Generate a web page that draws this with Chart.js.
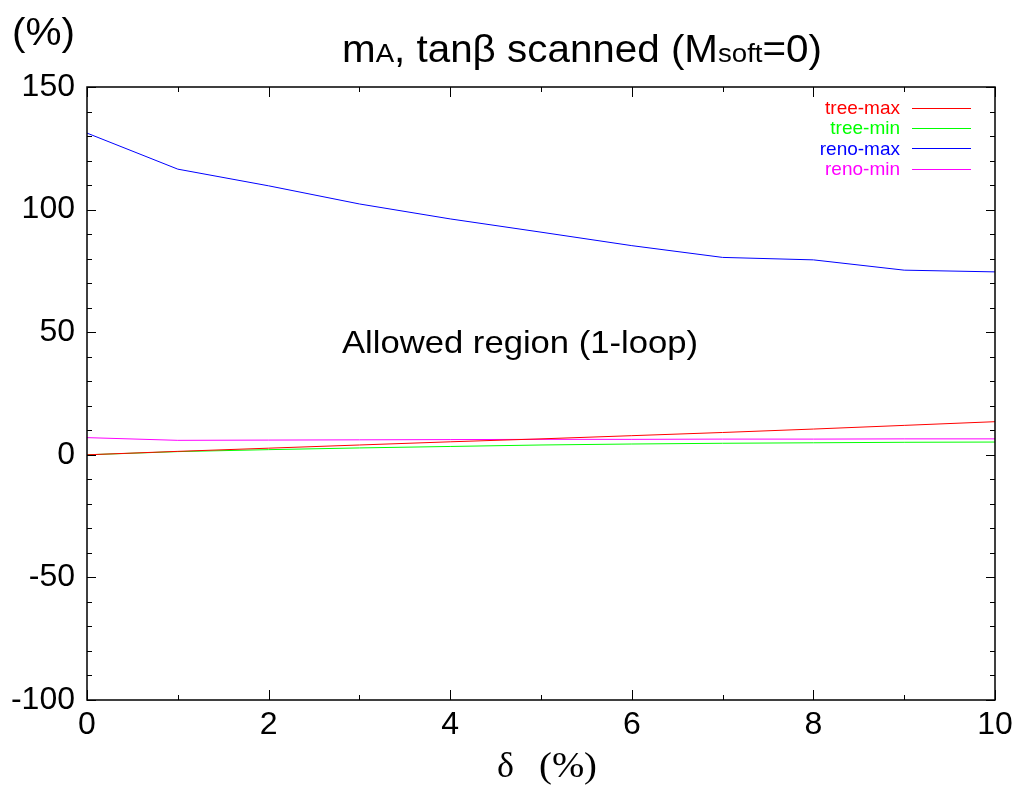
<!DOCTYPE html>
<html>
<head>
<meta charset="utf-8">
<script src="https://cdn.jsdelivr.net/npm/chart.js@4.4.1/dist/chart.umd.min.js"></script>
<style>
html,body{margin:0;padding:0;background:#fff;}
#wrap{width:1024px;height:785px;position:relative;}
</style>
</head>
<body>
<div id="wrap"><canvas id="c" width="1024" height="785"></canvas></div>
<script>
const deltas = [0,1,2,3,4,5,6,7,8,9,10];
const treeMax = [0,1.4,2.7,4.0,5.3,6.5,7.8,9.1,10.5,12.0,13.5];
const treeMin = [0,1.3,2.1,2.8,3.4,4.0,4.4,4.7,4.9,5.1,5.2];
const renoMax = [131.2,116.5,109.7,102.3,96.2,90.8,85.3,80.5,79.5,75.3,74.6];
const renoMin = [7.0,5.9,6.0,6.1,6.2,6.3,6.3,6.4,6.4,6.5,6.5];
const seriesNames = ['tree-max','tree-min','reno-max','reno-min'];
const seriesColors = ['#ff0000','#00ff00','#0000ff','#ff00ff'];
const xTicks = [0,2,4,6,8,10];
const xMinor = [1,3,5,7,9];
const yTicks = [-100,-50,0,50,100,150];
const yMinor = [-90,-80,-70,-60,-40,-30,-20,-10,10,20,30,40,60,70,80,90,110,120,130,140];

const SANS = '"Liberation Sans",Arial,Helvetica,sans-serif';
const SERIF = '"Liberation Serif","Times New Roman",serif';
const series = [treeMax,treeMin,renoMax,renoMin];

const datasets = series.map((s,i)=>({
  label: seriesNames[i],
  data: deltas.map((d,j)=>({x:d,y:s[j]})),
  borderColor: seriesColors[i],
  borderWidth: 1,
  pointRadius: 0,
  tension: 0,
  fill: false
}));

function fitText(ctx, text, x, y, font, width){
  ctx.font = font;
  const w = ctx.measureText(text).width;
  ctx.save();
  ctx.translate(x,y);
  ctx.scale(width ? width/w : 1, 1);
  ctx.fillText(text,0,0);
  ctx.restore();
}

const decor = {
  id:'decor',
  afterDraw(chart){
    const ctx = chart.ctx, a = chart.chartArea;
    const xs = chart.scales.x, ys = chart.scales.y;
    ctx.save();
    ctx.strokeStyle = '#000';
    ctx.lineWidth = 1.5;
    ctx.strokeRect(a.left, a.top, a.right-a.left, a.bottom-a.top);
    ctx.lineWidth = 1;
    ctx.beginPath();
    const tx = (v,len)=>{const p=Math.round(xs.getPixelForValue(v))+0.5;
      ctx.moveTo(p,a.bottom);ctx.lineTo(p,a.bottom-len);
      ctx.moveTo(p,a.top);ctx.lineTo(p,a.top+len);};
    const ty = (v,len)=>{const p=Math.round(ys.getPixelForValue(v))+0.5;
      ctx.moveTo(a.left,p);ctx.lineTo(a.left+len,p);
      ctx.moveTo(a.right,p);ctx.lineTo(a.right-len,p);};
    xTicks.forEach(v=>tx(v,10)); xMinor.forEach(v=>tx(v,5));
    yTicks.forEach(v=>ty(v,9)); yMinor.forEach(v=>ty(v,5));
    ctx.stroke();

    ctx.fillStyle = '#000';
    ctx.textBaseline = 'alphabetic';
    ctx.textAlign = 'left';
    // title with subscripts, stretched to the reference width
    const big = '38px '+SANS, small = '26px '+SANS;
    const parts = [['m',big],['A',small],[', tanβ scanned (M',big],['soft',small],['=0)',big]];
    let tw = 0;
    parts.forEach(p=>{ctx.font=p[1]; tw+=ctx.measureText(p[0]).width;});
    const sx = 480/tw;
    ctx.save();
    ctx.translate(342,62);
    ctx.scale(sx,1);
    let x0 = 0;
    parts.forEach(p=>{ctx.font=p[1]; ctx.fillText(p[0],x0,0); x0+=ctx.measureText(p[0]).width;});
    ctx.restore();

    fitText(ctx,'(%)',12,45,'38px '+SANS,63);
    fitText(ctx,'δ',497,777,'36px '+SERIF);
    fitText(ctx,'(%)',539,777,'36px '+SERIF,58);

    fitText(ctx,'Allowed region (1-loop)',342,353,'32px '+SANS,356);

    // legend
    ctx.textAlign='right';
    ctx.textBaseline='middle';
    ctx.font = '19px '+SANS;
    seriesNames.forEach((n,i)=>{
      const y = 108 + i*20.2;
      ctx.fillStyle = seriesColors[i];
      ctx.fillText(n,900,y+1);
      ctx.strokeStyle = seriesColors[i];
      ctx.beginPath();
      ctx.moveTo(912,Math.round(y)+0.5); ctx.lineTo(971,Math.round(y)+0.5);
      ctx.stroke();
    });
    ctx.restore();
  }
};

new Chart(document.getElementById('c'),{
  type:'line',
  data:{datasets},
  options:{
    responsive:false,
    animation:false,
    events:[],
    layout:{padding:{left:0,right:29,top:87,bottom:0}},
    plugins:{legend:{display:false},title:{display:false},tooltip:{enabled:false}},
    scales:{
      x:{type:'linear',min:0,max:10,
        afterBuildTicks:s=>{s.ticks=xTicks.map(v=>({value:v}));},
        afterFit:s=>{s.height=85;},
        grid:{display:false,drawTicks:false},border:{display:false},
        ticks:{color:'#000',padding:6,maxRotation:0,font:{family:SANS,size:32}}},
      y:{type:'linear',min:-100,max:150,
        afterBuildTicks:s=>{s.ticks=yTicks.map(v=>({value:v}));},
        afterFit:s=>{s.width=87;},
        grid:{display:false,drawTicks:false},border:{display:false},
        ticks:{color:'#000',padding:12,font:{family:SANS,size:32}}}
    }
  },
  plugins:[decor]
});
</script>
</body>
</html>
